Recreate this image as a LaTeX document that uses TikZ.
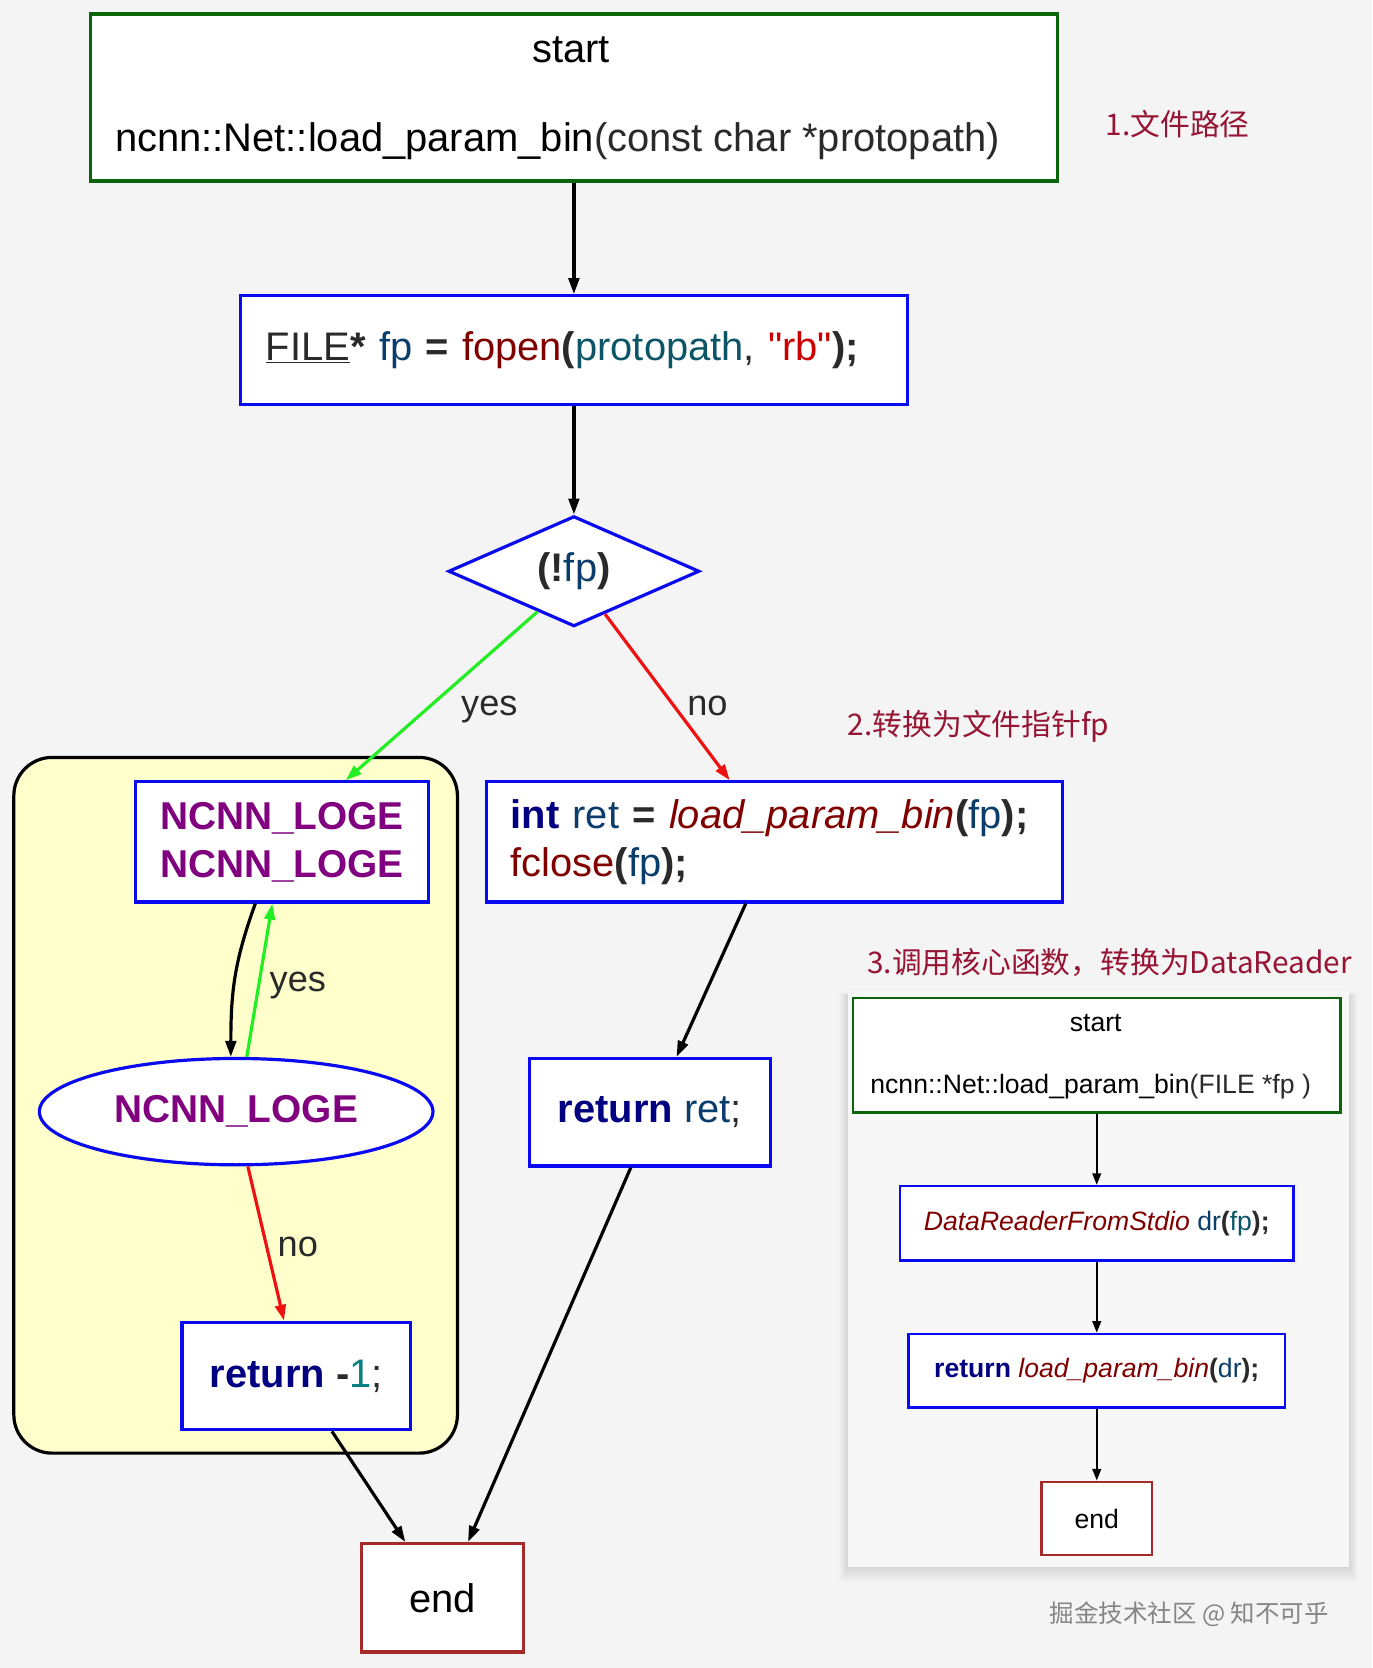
\documentclass[tikz,border=0pt]{standalone}
\usepackage{fontspec}
\setmainfont{Liberation Sans}
\newfontfamily\qfont{Liberation Sans}
\newfontfamily\cjk{Noto Sans CJK SC}
\usetikzlibrary{arrows.meta,shapes.geometric,calc}
\definecolor{bgc}{HTML}{F4F4F4}
\definecolor{panelc}{HTML}{F7F7F7}
\definecolor{gbord}{HTML}{0A640A}
\definecolor{bbord}{HTML}{0A0AF0}
\definecolor{ebord}{HTML}{A52A2A}
\definecolor{clfill}{HTML}{FFFFCC}
\definecolor{dk}{HTML}{2A2A2A}
\definecolor{vc}{HTML}{0A3D6B}
\definecolor{pc}{HTML}{0B5566}
\definecolor{fn}{HTML}{800000}
\definecolor{st}{HTML}{CC0000}
\definecolor{kw}{HTML}{000080}
\definecolor{nm}{HTML}{098080}
\definecolor{pur}{HTML}{800080}
\definecolor{note}{HTML}{961434}
\definecolor{yesg}{HTML}{22EE22}
\definecolor{nor}{HTML}{EE1111}
\definecolor{wm}{HTML}{858585}
\newcommand\fmain{\fontsize{37.5}{45}\selectfont}
\newcommand\fsmall{\fontsize{25}{30}\selectfont}
\newcommand\fnote{\fontsize{28}{34}\selectfont}
\begin{document}
\begin{tikzpicture}[x=1pt,y=-1pt,
  bx/.style={draw=bbord, line width=3pt, fill=white, inner sep=0pt, font=\fmain},
  gbx/.style={draw=gbord, line width=3.5pt, fill=white, inner sep=0pt},
  ebx/.style={draw=ebord, line width=3pt, fill=white, inner sep=0pt, font=\fmain},
  sbx/.style={draw=bbord, line width=2.2pt, fill=white, inner sep=0pt, font=\fsmall},
  arr/.style={-{Triangle[length=15pt,width=10pt]}, line width=3pt},
  sarr/.style={-{Triangle[length=11pt,width=8pt]}, line width=2.3pt},
  elab/.style={font=\fontsize{34}{40}\selectfont, text=dk, inner sep=0pt},
  notel/.style={font=\cjk\fnote, text=note, inner sep=0pt}]
\useasboundingbox (0,0) rectangle (1290,1568);
\fill[bgc] (0,0) rectangle (1290,1568);

% ---------- main start box
\node[gbx, minimum width=909pt, minimum height=157pt] (start) at (539.5,91.5) {};
\node[font=\fmain, inner sep=0pt] (startlbl) at (537,47) {start};
\node[font=\fmain, inner sep=0pt, anchor=west] (sig) at (108,133) {ncnn::Net::load\_param\_bin{\color{dk}(const char *protopath)}};
\node[notel] (n1) at (1107,117) {1.文件路径};

% ---------- fopen
\node[bx, minimum width=627pt, minimum height=102pt, text width=579pt, inner xsep=24pt, align=left] (fopen) at (539.5,329)
 {{\color{dk}\underline{FILE}\textbf{*}} {\color{vc}fp} {\color{dk}\textbf{=}} {\color{fn}fopen}{\color{dk}\textbf{(}}{\color{pc}protopath}{\color{dk}, }{\color{st}\qfont"rb"}{\color{dk}\textbf{);}}};

% ---------- condition
\node[diamond, draw=bbord, line width=3pt, fill=white, inner sep=0pt, minimum width=236pt, minimum height=100pt, font=\fmain] (cond) at (539.5,537)
 {{\color{dk}\textbf{(!}}{\color{vc}fp}{\color{dk}\textbf{)}}};

% ---------- cluster
\node[draw=black, line width=3pt, fill=clfill, rounded corners=36pt, minimum width=417pt, minimum height=654pt, inner sep=0pt] (clu) at (221.5,1039) {};

\node[bx, minimum width=276pt, minimum height=113pt, align=center, text=pur, font=\fontsize{36.5}{45}\selectfont] (loge) at (265,791.5)
 {\textbf{NCNN\_LOGE}\\\textbf{NCNN\_LOGE}};
\node[ellipse, draw=bbord, line width=3pt, fill=white, inner sep=0pt, minimum width=370pt, minimum height=100pt, font=\fontsize{36.5}{45}\selectfont, text=pur] (ell) at (222,1045)
 {\textbf{NCNN\_LOGE}};
\node[bx, minimum width=215pt, minimum height=101pt] (ret1) at (278.5,1293.5)
 {{\color{kw}\textbf{return}} {\color{dk}\textbf{-}}{\color{nm}1}{\color{dk};}};

% ---------- right branch
\node[bx, minimum width=542pt, minimum height=113pt, text width=496pt, inner xsep=23pt, align=left] (intb) at (728,791.5)
 {{\color{kw}\textbf{int}} {\color{vc}ret} {\color{dk}\textbf{=}} {\color{fn}\textit{load\_param\_bin}}{\color{dk}\textbf{(}}{\color{vc}fp}{\color{dk}\textbf{);}}\\
  {\color{fn}fclose}{\color{dk}\textbf{(}}{\color{vc}fp}{\color{dk}\textbf{);}}};
\node[notel] (n2) at (920,683) {2.转换为文件指针fp};
\node[bx, minimum width=226pt, minimum height=101pt] (retret) at (611,1045.5)
 {{\color{kw}\textbf{return}} {\color{vc}ret}{\color{dk};}};
\node[ebx, minimum width=152pt, minimum height=102pt] (endm) at (416,1502) {end};

% ---------- main connectors
\draw[arr] (start.south) -- (fopen.north);
\draw[arr] (fopen.south) -- (cond.north);
\draw[arr, yesg] (cond.-132) -- ([xshift=60pt]loge.north);
\draw[arr, nor] (cond.-54) -- ([xshift=-42pt]intb.north);
\node[elab] (yes1) at (460,667) {yes};
\node[elab] (no1) at (665,664) {no};
\draw[arr] ([xshift=-25pt]loge.south) .. controls +(-20,55) and +(0,-60) .. ([xshift=-5pt]ell.north);
\draw[arr, yesg] ([xshift=10pt]ell.north) -- ([xshift=-9pt]loge.south);
\node[elab] (yes2) at (280,926) {yes};
\draw[arr, nor] ([xshift=11pt]ell.south) -- ([xshift=-11.5pt]ret1.north);
\node[elab] (no2) at (280,1172) {no};
\draw[arr] ([xshift=-27pt]intb.south) -- ([xshift=25pt]retret.north);
\draw[arr] ([xshift=33.5pt]ret1.south) -- ([xshift=-35pt]endm.north);
\draw[arr] ([xshift=-18pt]retret.south) -- ([xshift=24pt]endm.north);

% ---------- inset panel
\node[notel] (n3) at (1043,905) {3.调用核心函数，转换为DataReader};
\foreach \i in {1,...,10}
  \fill[black, opacity=0.012] (797-\i*0.8,932-\i*0.3+4) rectangle (1268+\i*0.8,1473+\i*1.4);
\fill[panelc] (797,932) rectangle (1268,1473);

\node[gbx, line width=2.5pt, minimum width=458pt, minimum height=108pt] (istart) at (1031,992) {};
\node[font=\fsmall, inner sep=0pt] (istartlbl) at (1030,962) {start};
\node[font=\fsmall, inner sep=0pt, anchor=west] (isig) at (818,1021) {ncnn::Net::load\_param\_bin{\color{dk}(FILE *fp )}};
\node[sbx, minimum width=370pt, minimum height=70pt] (idr) at (1031,1150)
 {{\color{fn}\textit{DataReaderFromStdio}} {\color{vc}dr}{\color{dk}\textbf{(}}{\color{pc}fp}{\color{dk}\textbf{);}}};
\node[sbx, minimum width=354pt, minimum height=69pt] (iret) at (1031,1288.5)
 {{\color{kw}\textbf{return}} {\color{fn}\textit{load\_param\_bin}}{\color{dk}\textbf{(}}{\color{vc}dr}{\color{dk}\textbf{);}}};
\node[draw=ebord, line width=2.2pt, fill=white, inner sep=0pt, minimum width=104pt, minimum height=69pt, font=\fsmall] (iend) at (1031,1427.5) {end};
\draw[sarr] (istart.south) -- (idr.north);
\draw[sarr] (idr.south) -- (iret.north);
\draw[sarr] (iret.south) -- (iend.north);

% ---------- watermark
\node[font=\cjk\fontsize{23}{28}\selectfont, text=wm, inner sep=0pt] (wmk) at (1118,1517) {掘金技术社区 @ 知不可乎};
\end{tikzpicture}
\end{document}
